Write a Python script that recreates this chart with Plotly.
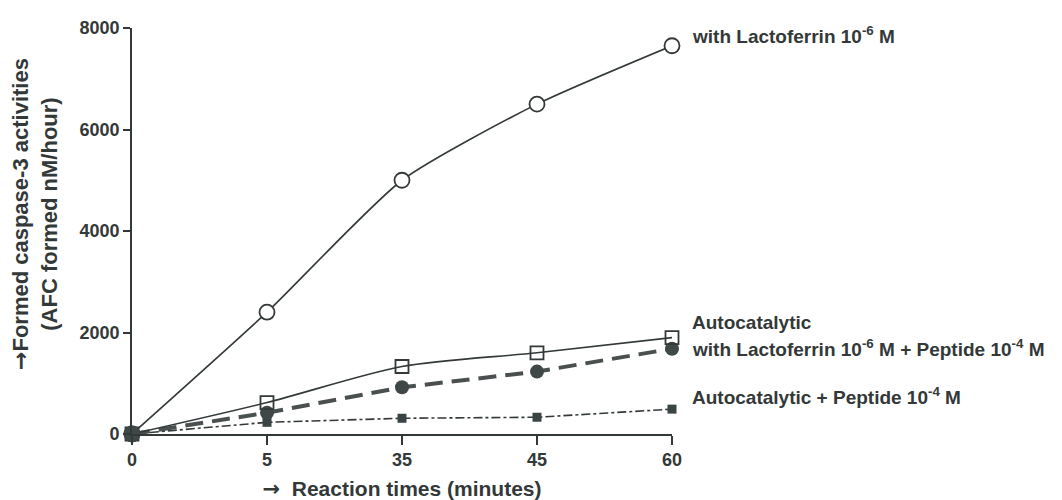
import plotly.graph_objects as go

times = ["0", "5", "35", "45", "60"]
lacto = [0, 2400, 5000, 6500, 7650]
auto = [0, 620, 1330, 1600, 1900]
lacto_pep = [0, 420, 920, 1230, 1680]
auto_pep = [0, 230, 310, 330, 490]
y_ticks = [0, 2000, 4000, 6000, 8000]

ink = "#333838"
font_family = "Liberation Sans, Arial, sans-serif"
ARROW = '<span style="font-family:DejaVu Sans">→</span>'

fig = go.Figure()

fig.add_trace(go.Scatter(
    x=times, y=auto_pep, mode="lines+markers", cliponaxis=False,
    line=dict(color=ink, width=1.6, dash="dashdot"),
    marker=dict(symbol="square", size=9, color="#3a4444"),
))
fig.add_trace(go.Scatter(
    x=times, y=lacto_pep, mode="lines+markers", cliponaxis=False,
    line=dict(color="#4a5050", width=4, dash="18px,9px"),
    marker=dict(symbol="circle", size=14, color="#3f4747"),
))
fig.add_trace(go.Scatter(
    x=times, y=auto, mode="lines+markers", cliponaxis=False,
    line=dict(color=ink, width=1.6, shape="spline", smoothing=0.8),
    marker=dict(symbol="square-open", size=13, color=ink, line=dict(width=1.8)),
))
fig.add_trace(go.Scatter(
    x=times, y=lacto, mode="lines+markers", cliponaxis=False,
    line=dict(color=ink, width=1.6, shape="spline", smoothing=0.6),
    marker=dict(symbol="circle", size=15, color="white", line=dict(width=1.8, color=ink)),
))
# origin point shared by all series
fig.add_trace(go.Scatter(
    x=times[:1], y=lacto_pep[:1], mode="markers", cliponaxis=False,
    marker=dict(symbol="circle", size=17, color="#3f4747"),
))

last = len(times) - 1
labels = [
    (lacto[-1], "with Lactoferrin 10<sup>-6</sup> M", 11),
    (auto[-1], "Autocatalytic", 15),
    (lacto_pep[-1], "with Lactoferrin 10<sup>-6</sup> M + Peptide 10<sup>-4</sup> M", 1),
    (auto_pep[-1], "Autocatalytic + Peptide 10<sup>-4</sup> M", 13),
]
for yv, txt, ys in labels:
    fig.add_annotation(
        x=last, y=yv, text=txt, showarrow=False, xanchor="left",
        xshift=18, yshift=ys, font=dict(size=19, color=ink, family=font_family, weight="bold"),
    )

fig.add_annotation(
    xref="paper", yref="paper", x=0, y=0.5, xshift=-97, yshift=17,
    text=ARROW + "Formed caspase-3 activities<br>(AFC formed nM/hour)",
    textangle=-90, showarrow=False, xanchor="center", yanchor="middle",
    font=dict(size=22, color=ink, family=font_family, weight="bold"),
)

fig.update_layout(
    width=1062, height=500,
    margin=dict(l=124, r=398, t=10, b=74),
    plot_bgcolor="white", paper_bgcolor="white",
    showlegend=False,
    font=dict(family=font_family, color=ink, size=17, weight="bold"),
)
fig.update_xaxes(
    type="category", range=[0, 4], showgrid=False, zeroline=False,
    showline=True, linecolor=ink, linewidth=1.6,
    ticks="outside", ticklen=9, tickwidth=1.6, tickcolor=ink,
    tickfont=dict(size=18, weight="bold"),
    title=dict(text=ARROW + "  Reaction times (minutes)", standoff=12,
               font=dict(size=21, weight="bold")),
)
fig.update_yaxes(
    range=[0, 8000], tickvals=y_ticks, showgrid=False, zeroline=False,
    showline=True, linecolor=ink, linewidth=1.6,
    ticks="outside", ticklen=7, tickwidth=1.6, tickcolor=ink,
    tickfont=dict(size=18, weight="bold"),
)

fig.write_html("out.html")
